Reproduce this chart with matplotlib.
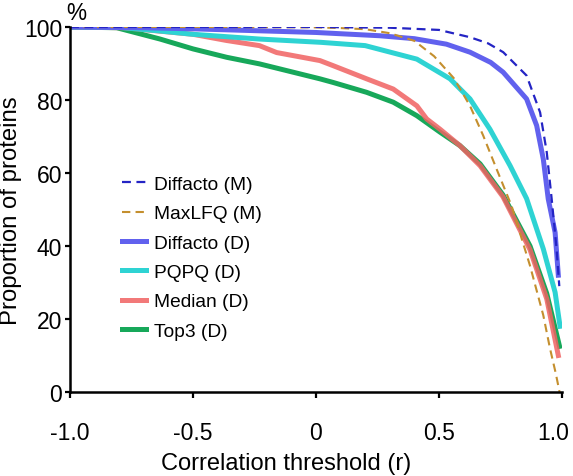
import matplotlib
matplotlib.use("Agg")
import matplotlib.pyplot as plt
from matplotlib.transforms import ScaledTranslation

plt.rcParams['font.family'] = ['Liberation Sans', 'DejaVu Sans']

# curves (x = correlation threshold, y = % proteins)
diffacto_m_x = [-1, 0, 0.3, 0.5, 0.626, 0.7, 0.761, 0.856, 0.911, 0.938, 0.958, 0.978, 0.989]
diffacto_m_y = [100, 100, 99.8, 99.2, 97.2, 95.5, 93.1, 86.7, 76.6, 65.7, 52.9, 39.2, 29]

maxlfq_x = [-1, -0.5, 0, 0.1, 0.2, 0.3, 0.4, 0.48, 0.56, 0.626, 0.68, 0.734, 0.795,
            0.87, 0.924, 0.951, 0.975, 0.99]
maxlfq_y = [100, 100, 99.9, 99.7, 99.4, 98.3, 96.2, 92, 86, 78.4, 70.2, 61.1, 51,
            34.6, 21, 12, 5, 0]

diffacto_d_x = [-1, -0.7, -0.5, -0.25, 0, 0.26, 0.4, 0.53, 0.626, 0.71, 0.761, 0.856,
                0.897, 0.924, 0.944, 0.972, 0.985]
diffacto_d_y = [100, 99.8, 99.5, 99, 98.5, 97.6, 96.8, 95.3, 93.1, 90.3, 87.6, 80.3,
                73, 63.8, 52.9, 43.7, 32]

pqpq_x = [-1, -0.8, -0.65, -0.5, -0.23, 0.02, 0.2, 0.41, 0.545, 0.626, 0.707, 0.789,
          0.856, 0.924, 0.972, 0.992]
pqpq_y = [100, 99.9, 99, 98, 96.7, 95.8, 94.9, 91.2, 85.8, 80.3, 72, 62,
          53, 39.2, 27.3, 18]

median_x = [-1, -0.78, -0.5, -0.363, -0.23, -0.16, 0.016, 0.07, 0.206, 0.314, 0.41,
            0.45, 0.504, 0.585, 0.667, 0.76, 0.87, 0.938, 0.985]
median_y = [100, 99.8, 98, 96.3, 94.9, 93, 90.8, 89.4, 85.8, 83, 78.4,
            74.8, 72, 67.5, 62, 53.5, 39, 25.5, 10]

top3_x = [-1, -0.81, -0.634, -0.5, -0.363, -0.23, -0.092, 0.016, 0.07, 0.206, 0.314,
          0.41, 0.504, 0.585, 0.667, 0.76, 0.87, 0.938, 0.99]
top3_y = [100, 99.8, 96.7, 94, 91.7, 89.9, 87.6, 85.8, 84.8, 82.1, 79.4,
          75.7, 71.2, 67.5, 62.5, 54, 40, 27, 12.5]

xticks = [-1.0, -0.5, 0, 0.5, 1.0]
xtick_labels = ["-1.0", "-0.5", "0", "0.5", "1.0"]
yticks = [0, 20, 40, 60, 80, 100]

fig = plt.figure(figsize=(5.73, 4.77), dpi=100)
ax = fig.add_axes([70 / 573, 1 - 393 / 477, 492 / 573, 365 / 477])

l_top3, = ax.plot(top3_x, top3_y, color='#17a85a', lw=3.6, label='Top3 (D)')
l_med, = ax.plot(median_x, median_y, color='#f06262', lw=3.6, alpha=0.85, label='Median (D)')
l_pq, = ax.plot(pqpq_x, pqpq_y, color='#2ed3d3', lw=3.6, label='PQPQ (D)')
l_dd, = ax.plot(diffacto_d_x, diffacto_d_y, color='#6161ee', lw=3.6, label='Diffacto (D)')
l_mq, = ax.plot(maxlfq_x, maxlfq_y, color='#c48f2e', lw=1.5, ls=(0, (4, 2.5)), label='MaxLFQ (M)')
l_dm, = ax.plot(diffacto_m_x, diffacto_m_y, color='#2424c4', lw=1.6, ls=(0, (4, 2.5)), label='Diffacto (M)')

ax.set_xlim(-1, 1)
ax.set_ylim(0, 100)
ax.set_xticks(xticks)
ax.set_xticklabels(xtick_labels)
ax.set_yticks(yticks)

for s in ['top', 'right']:
    ax.spines[s].set_visible(False)
for s in ['left', 'bottom']:
    ax.spines[s].set_linewidth(1.8)
ax.tick_params(axis='x', direction='out', length=4.3, width=1.6, labelsize=16.5, pad=16.5)
ax.tick_params(axis='y', direction='out', length=3.8, width=1.6, labelsize=16.5, pad=1.8)

# last x tick label sits a little left so it stays inside the figure
last = ax.get_xticklabels()[-1]
last.set_transform(last.get_transform() + ScaledTranslation(-0.09, 0, fig.dpi_scale_trans))

ax.set_xlabel("Correlation threshold (r)", fontsize=17)
ax.xaxis.set_label_coords(0.439, -0.211, transform=ax.transAxes)
ax.xaxis.label.set_va('baseline')
ax.set_ylabel("Proportion of proteins", fontsize=17.2)
ax.yaxis.set_label_coords(-0.12, 0.50)
ax.yaxis.label.set_va('center')
fig.text(76 / 573, 1 - 1.5 / 477, "%", fontsize=16.3, ha='center', va='top')

ax.legend(handles=[l_dm, l_mq, l_dd, l_pq, l_med, l_top3],
          loc='upper left', bbox_to_anchor=(0.07, 0.64), frameon=False,
          fontsize=13.8, handlelength=1.25, handletextpad=0.45, labelspacing=0.62)

fig.savefig("out.png", dpi=100)
